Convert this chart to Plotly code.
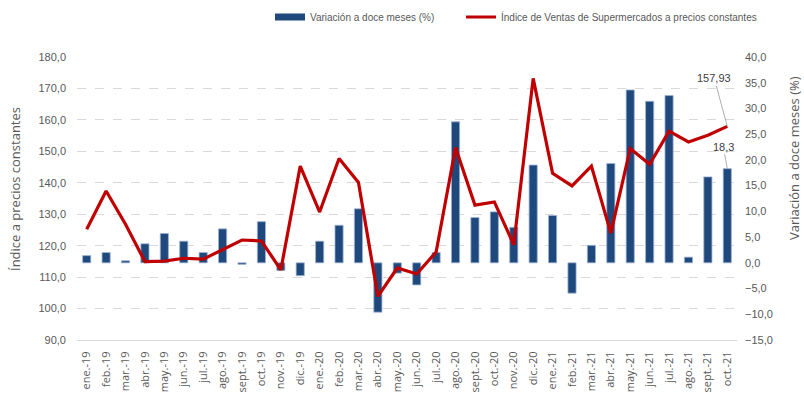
import plotly.graph_objects as go

months = ["ene.-19","feb.-19","mar.-19","abr.-19","may.-19","jun.-19","jul.-19","ago.-19","sept.-19","oct.-19","nov.-19","dic.-19",
          "ene.-20","feb.-20","mar.-20","abr.-20","may.-20","jun.-20","jul.-20","ago.-20","sept.-20","oct.-20","nov.-20","dic.-20",
          "ene.-21","feb.-21","mar.-21","abr.-21","may.-21","jun.-21","jul.-21","ago.-21","sept.-21","oct.-21"]

indice = [125.2, 137.4, 126.8, 114.9, 115.1, 116.0, 115.7, 118.7, 121.8, 121.5, 112.3, 145.3,
          130.7, 147.7, 140.1, 103.9, 112.9, 111.0, 118.0, 151.2, 132.9, 133.9, 120.3, 173.2,
          143.0, 139.0, 145.3, 124.0, 150.9, 145.9, 156.4, 153.0, 155.1, 157.93]

variacion = [1.4, 2.0, 0.4, 3.7, 5.7, 4.2, 2.0, 6.6, -0.3, 8.0, -1.5, -2.5,
             4.2, 7.3, 10.5, -9.6, -2.0, -4.3, 2.0, 27.4, 8.8, 9.9, 6.9, 19.0,
             9.2, -5.9, 3.4, 19.3, 33.6, 31.4, 32.5, 1.1, 16.7, 18.3]

name_bar = "Variación a doce meses (%)"
name_line = "Índice de Ventas de Supermercados a precios constantes"

GREY = "#595959"
NUMF = "Liberation Sans, Arial, sans-serif"
SANS = "Open Sans, DejaVu Sans, sans-serif"
BLUE = "#1F497D"
RED = "#C00000"

W, H = 804, 400
L, T = 77, 57
PW, PH = 660, 283
R, B = W - L - PW, H - T - PH

def px(sx, sy):
    return (sx - L) / PW, (T + PH - sy) / PH

fig = go.Figure()
fig.add_trace(go.Bar(
    x=months, y=variacion, name=name_bar, yaxis="y", showlegend=False,
    marker=dict(color=BLUE, line=dict(color="#9DB3D3", width=0.8)),
))
# legend swatch for the bars (wide rectangle as in the original)
fig.add_trace(go.Scatter(
    x=[None], y=[None], name=name_bar, yaxis="y", mode="lines",
    line=dict(color=BLUE, width=7), showlegend=True, legend="legend",
))
fig.add_trace(go.Scatter(
    x=months, y=indice, name=name_line, yaxis="y2", mode="lines",
    line=dict(color=RED, width=3.2), legend="legend2",
))

fig.add_annotation(x=months[-1], y=indice[-1], xref="x", yref="y2",
                   text="157,93", showarrow=True, arrowhead=0, arrowwidth=0.7,
                   arrowcolor="#8c8c8c", ax=-13, ay=-48,
                   font=dict(family=NUMF, size=11, color="#404040"))
fig.add_annotation(x=months[-1], y=variacion[-1], xref="x", yref="y",
                   text="18,3", showarrow=True, arrowhead=0, arrowwidth=0.7,
                   arrowcolor="#8c8c8c", ax=-4, ay=-22,
                   font=dict(family=NUMF, size=11, color="#404040"))

lx, ly = px(15, 189)
fig.add_annotation(x=lx, y=ly, xref="paper", yref="paper", text="Índice a precios constantes",
                   showarrow=False, textangle=-90, xanchor="center", yanchor="middle",
                   font=dict(family=SANS, size=13, color=GREY))
rx, ry = px(794, 158)
fig.add_annotation(x=rx, y=ry, xref="paper", yref="paper", text="Variación a doce meses (%)",
                   showarrow=False, textangle=-90, xanchor="center", yanchor="middle",
                   font=dict(family=SANS, size=13, color=GREY))

g1x, gy = px(270, 17)
g2x, _ = px(461, 17)
legend_common = dict(orientation="h", yanchor="middle", xanchor="left",
                     font=dict(family=NUMF, size=10, color=GREY),
                     bgcolor="rgba(0,0,0,0)", itemwidth=30)

fig.update_layout(
    width=W, height=H,
    margin=dict(l=L, r=R, t=T, b=B, autoexpand=False),
    paper_bgcolor="white", plot_bgcolor="white",
    separators=",.",
    bargap=0.58,
    showlegend=True,
    legend=dict(x=g1x, y=gy, **legend_common),
    legend2=dict(x=g2x, y=gy, **legend_common),
    xaxis=dict(type="category", range=[-0.5, 33.5], tickangle=-90, showgrid=False,
               showline=True, linecolor="#d9d9d9", linewidth=1, ticks="",
               tickfont=dict(family=SANS, size=11, color=GREY), automargin=False,
               ticklabelstandoff=6),
    yaxis=dict(side="right", range=[-15, 40], dtick=5, tickformat=".1f", showgrid=False,
               zeroline=False, tickfont=dict(family=NUMF, size=11, color=GREY),
               automargin=False, ticklabelstandoff=7),
    yaxis2=dict(side="left", overlaying="y", range=[90, 180], dtick=10, tickformat=".1f",
                showgrid=True, gridcolor="#d9d9d9", griddash="dash", gridwidth=1,
                zeroline=False, tickfont=dict(family=NUMF, size=11, color=GREY),
                automargin=False, ticklabelstandoff=10),
)

fig.write_html("out.html", config={"displayModeBar": False},
               post_script="document.body.style.margin='0';document.body.style.overflow='hidden';")
